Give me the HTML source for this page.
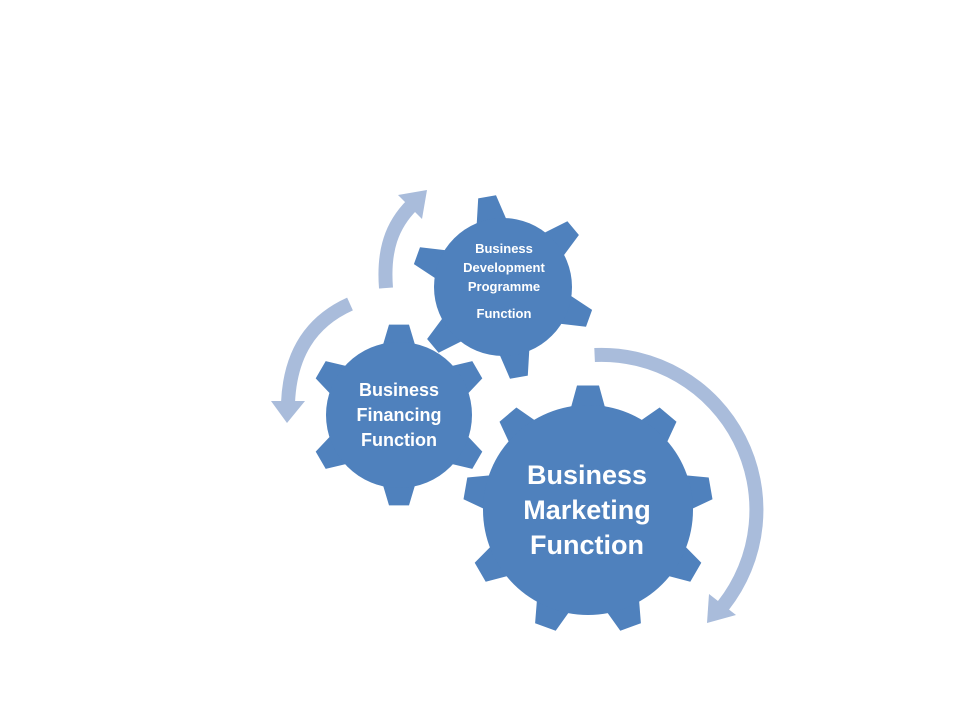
<!DOCTYPE html>
<html><head><meta charset="utf-8"><style>
html,body{margin:0;padding:0;background:#fff;width:960px;height:720px;overflow:hidden}
svg text{font-family:"Liberation Sans",sans-serif;font-weight:bold;fill:#fff;text-anchor:middle}
</style></head><body>
<svg id="s" width="960" height="720" viewBox="0 0 960 720" xmlns="http://www.w3.org/2000/svg">
<g fill="none" stroke="#a9bcdb" stroke-width="14">
<path d="M386 288 C383 250 392 225 412 205"/>
<path d="M350 304 C310 322 290 355 288 403"/>
<path d="M594.6 355 A155 155 0 0 1 723 606"/>
</g>
<g fill="#a9bcdb">
<polygon points="427,190 398,195 422,219"/>
<polygon points="287,423 271,401 305,401"/>
<polygon points="707,623 736,615 709,594"/>
</g>
<g fill="#4f81bd" id="gears"></g>
<text x="504" y="253" font-size="13">Business</text>
<text x="504" y="272" font-size="13">Development</text>
<text x="504" y="291" font-size="13">Programme</text>
<text x="504" y="318" font-size="13">Function</text>
<text x="399" y="396" font-size="18">Business</text>
<text x="399" y="421" font-size="18">Financing</text>
<text x="399" y="446" font-size="18">Function</text>
<text x="587" y="484" font-size="27">Business</text>
<text x="587" y="519" font-size="27">Marketing</text>
<text x="587" y="554" font-size="27">Function</text>
</svg>
<script>
function gear(cx,cy,n,rb,rt,a0,hb,ht){
 var p=[];
 for(var i=0;i<n;i++){
  var a=(a0+i*360/n)*Math.PI/180;
  var ab=Math.asin(hb/rb), at=Math.asin(ht/rt);
  var prev=(a0+(i-0.5)*360/n)*Math.PI/180;
  p.push([cx+rb*Math.cos(prev),cy+rb*Math.sin(prev)]);
  p.push([cx+rb*Math.cos(a-ab),cy+rb*Math.sin(a-ab)]);
  p.push([cx+rt*Math.cos(a-at),cy+rt*Math.sin(a-at)]);
  p.push([cx+rt*Math.cos(a+at),cy+rt*Math.sin(a+at)]);
  p.push([cx+rb*Math.cos(a+ab),cy+rb*Math.sin(a+ab)]);
 }
 var g=document.getElementById('gears');
 var pg=document.createElementNS('http://www.w3.org/2000/svg','polygon');
 pg.setAttribute('points',p.map(function(q){return q[0].toFixed(1)+','+q[1].toFixed(1)}).join(' '));
 g.appendChild(pg);
 var c=document.createElementNS('http://www.w3.org/2000/svg','circle');
 c.setAttribute('cx',cx);c.setAttribute('cy',cy);c.setAttribute('r',rb+1);
 g.appendChild(c);
}
gear(503,287,6,68,92,-100,15,9);
gear(399,415,6,72,91,-90,16,10);
gear(588,510,9,104,125,-90,17,11);
</script>
</body></html>
